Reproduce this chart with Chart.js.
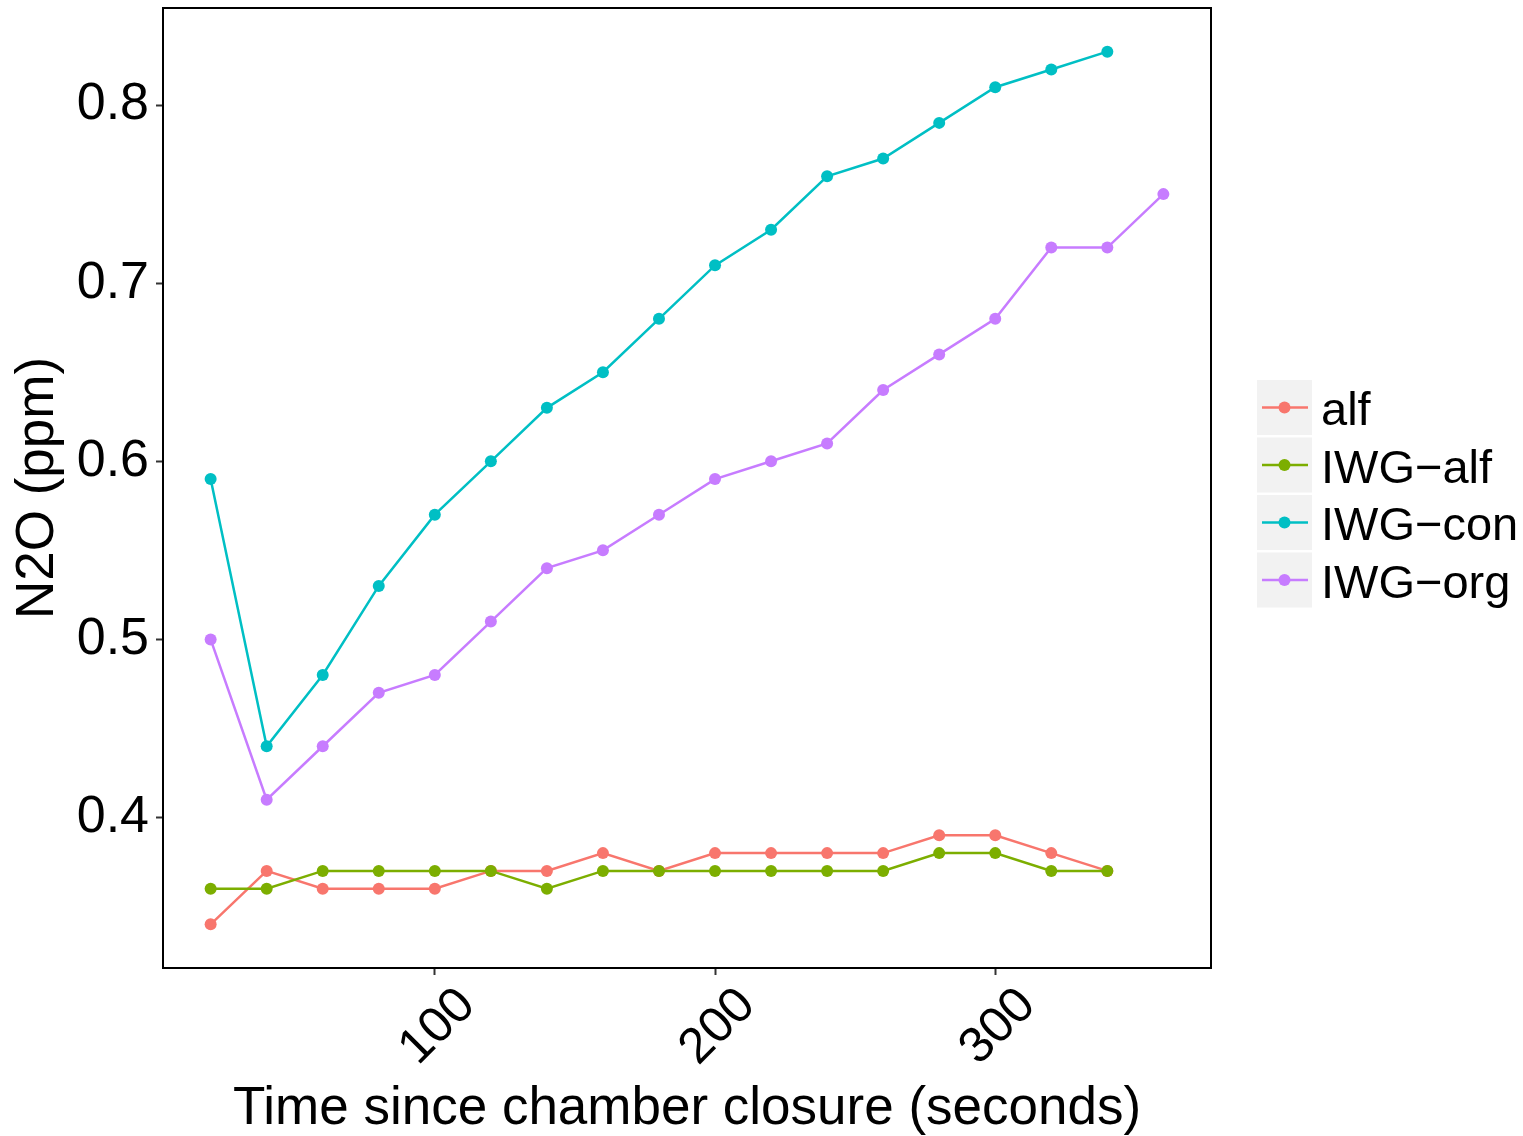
<!DOCTYPE html>
<html>
<head>
<meta charset="utf-8">
<script src="https://cdn.jsdelivr.net/npm/chart.js@4.4.1/dist/chart.umd.min.js"></script>
<style>
  html, body { margin: 0; padding: 0; background: #ffffff; }
  canvas { display: block; }
</style>
</head>
<body>
<canvas id="c" width="1523" height="1136"></canvas>
<script>
// ---- data ----
const times = [20, 40, 60, 80, 100, 120, 140, 160, 180, 200, 220, 240, 260, 280, 300, 320, 340, 360];
const seriesNames = ["alf", "IWG\u2212alf", "IWG\u2212con", "IWG\u2212org"];
const alf    = [0.34, 0.37, 0.36, 0.36, 0.36, 0.37, 0.37, 0.38, 0.37, 0.38, 0.38, 0.38, 0.38, 0.39, 0.39, 0.38, 0.37];
const iwgAlf = [0.36, 0.36, 0.37, 0.37, 0.37, 0.37, 0.36, 0.37, 0.37, 0.37, 0.37, 0.37, 0.37, 0.38, 0.38, 0.37, 0.37];
const iwgCon = [0.59, 0.44, 0.48, 0.53, 0.57, 0.60, 0.63, 0.65, 0.68, 0.71, 0.73, 0.76, 0.77, 0.79, 0.81, 0.82, 0.83];
const iwgOrg = [0.50, 0.41, 0.44, 0.47, 0.48, 0.51, 0.54, 0.55, 0.57, 0.59, 0.60, 0.61, 0.64, 0.66, 0.68, 0.72, 0.72, 0.75];
const xTicks = [100, 200, 300];
const yTicks = [0.4, 0.5, 0.6, 0.7, 0.8];
const xTitle = "Time since chamber closure (seconds)";
const yTitle = "N2O (ppm)";

const colors = ["#F8766D", "#7CAE00", "#00BFC4", "#C77CFF"];
const allSeries = [alf, iwgAlf, iwgCon, iwgOrg];

const FONT = "'Liberation Sans', Arial, Helvetica, sans-serif";

function toPoints(vals) {
  return vals.map((v, i) => ({ x: times[i], y: v }));
}

const datasets = allSeries.map((vals, i) => ({
  label: seriesNames[i],
  data: toPoints(vals),
  borderColor: colors[i],
  backgroundColor: colors[i],
  pointBackgroundColor: colors[i],
  pointBorderWidth: 0,
  pointRadius: 6,
  borderWidth: 2.5,
  tension: 0,
  fill: false,
  order: 4 - i
}));

// range with ggplot-like 5% expansion
const allY = allSeries.flat();
const yMinD = Math.min(...allY), yMaxD = Math.max(...allY);
const yPad = (yMaxD - yMinD) * 0.05;
const xMinD = Math.min(...times), xMaxD = Math.max(...times);
const xPad = (xMaxD - xMinD) * 0.05;

const framePlugin = {
  id: 'frameAndExtras',
  afterDraw(chart) {
    const ctx = chart.ctx;
    const a = chart.chartArea;
    ctx.save();
    // panel border
    ctx.strokeStyle = '#000000';
    ctx.lineWidth = 2;
    ctx.strokeRect(a.left, a.top, a.right - a.left, a.bottom - a.top);

    // rotated x tick labels
    const xs = chart.scales.x;
    ctx.fillStyle = '#000000';
    ctx.font = '50px ' + FONT;
    ctx.textAlign = 'center';
    ctx.textBaseline = 'middle';
    xTicks.forEach(v => {
      const px = xs.getPixelForValue(v);
      ctx.save();
      ctx.translate(px + 3, 1027);
      ctx.rotate(-Math.PI / 4);
      ctx.fillText(String(v), 0, 0);
      ctx.restore();
    });

    // legend
    const keyX = 1257, keyW = 55, keyH = 55, rowStep = 57.5, firstCenter = 407.5;
    chart.data.datasets.forEach((ds, i) => {
      const cy = firstCenter + i * rowStep;
      ctx.fillStyle = '#F2F2F2';
      ctx.fillRect(keyX, cy - keyH / 2, keyW, keyH);
      ctx.strokeStyle = ds.borderColor;
      ctx.lineWidth = 2.5;
      ctx.beginPath();
      ctx.moveTo(keyX + 5, cy);
      ctx.lineTo(keyX + keyW - 4, cy);
      ctx.stroke();
      ctx.fillStyle = ds.borderColor;
      ctx.beginPath();
      ctx.arc(keyX + keyW / 2, cy, 6, 0, Math.PI * 2);
      ctx.fill();
      ctx.fillStyle = '#000000';
      ctx.font = '47px ' + FONT;
      ctx.textAlign = 'left';
      ctx.textBaseline = 'alphabetic';
      ctx.fillText(ds.label, 1321, cy + 17.5);
    });
    ctx.restore();
  }
};

new Chart(document.getElementById('c'), {
  type: 'line',
  data: { datasets },
  plugins: [framePlugin],
  options: {
    responsive: false,
    animation: false,
    devicePixelRatio: 1,
    layout: { padding: { left: 0, top: 8, right: 312, bottom: 0 } },
    plugins: {
      legend: { display: false },
      tooltip: { enabled: false }
    },
    scales: {
      x: {
        type: 'linear',
        min: xMinD - xPad,
        max: xMaxD + xPad,
        afterBuildTicks: (s) => { s.ticks = xTicks.map(v => ({ value: v })); },
        afterFit: (s) => { s.height = 168; s.paddingLeft = 0; s.paddingRight = 0; },
        ticks: { display: false },
        grid: { display: true, drawOnChartArea: false, drawTicks: true, tickLength: 7, tickColor: '#333333', tickWidth: 2 },
        border: { display: false },
        title: {
          display: true,
          text: xTitle,
          color: '#000000',
          font: { family: FONT, size: 53, lineHeight: 1.0 },
          padding: { top: 0, bottom: 0 }
        }
      },
      y: {
        type: 'linear',
        min: yMinD - yPad,
        max: yMaxD + yPad,
        afterBuildTicks: (s) => { s.ticks = yTicks.map(v => ({ value: v })); },
        afterFit: (s) => { s.width = 163; s.paddingTop = 0; s.paddingBottom = 0; },
        ticks: {
          color: '#000000',
          font: { family: FONT, size: 52 },
          padding: 7,
          callback: (v) => Number(v).toFixed(1)
        },
        grid: { display: true, drawOnChartArea: false, drawTicks: true, tickLength: 7, tickColor: '#333333', tickWidth: 2 },
        border: { display: false },
        title: {
          display: true,
          text: yTitle,
          color: '#000000',
          font: { family: FONT, size: 53, lineHeight: 1.1 },
          padding: { top: 9, bottom: 0 }
        }
      }
    }
  }
});
</script>
</body>
</html>
